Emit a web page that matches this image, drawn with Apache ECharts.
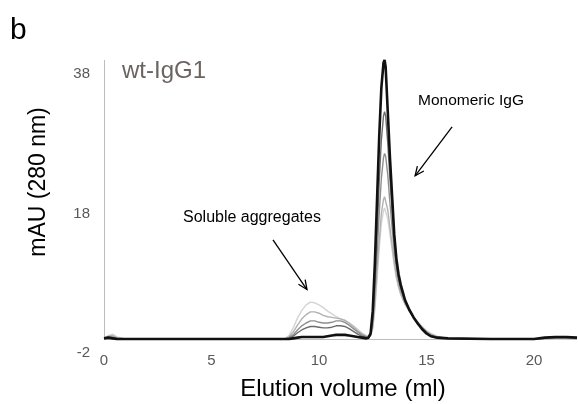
<!DOCTYPE html>
<html>
<head>
<meta charset="utf-8">
<script src="https://cdn.jsdelivr.net/npm/echarts@6/dist/echarts.min.js"></script>
<style>
  html, body { margin: 0; padding: 0; background: #fff; }
  #chart { width: 578px; height: 404px; }
</style>
</head>
<body>
<div id="chart"></div>
<script>
// elution volume (ml), shared by all traces
const volume = [0, 0.2, 0.4, 0.6, 1, 3, 6, 8.4, 8.6, 8.8,
  9.0, 9.2, 9.4, 9.6, 9.8, 10.0, 10.2, 10.4, 10.6, 10.8,
  11.0, 11.2, 11.4, 11.6, 11.8, 12.0, 12.2, 12.3, 12.4, 12.5,
  12.6, 12.7, 12.8, 12.9, 13.0, 13.05, 13.1, 13.2, 13.3, 13.4,
  13.5, 13.6, 13.7, 13.8, 14.0, 14.2, 14.4, 14.6, 14.8, 15.0,
  15.2, 15.5, 16, 18, 20, 20.5, 21, 21.5, 22];

// absorbance traces (mAU), lightest -> darkest
const traceA = [0.1, 0.5, 0.7, 0.3, 0, 0, 0, 0, 0.5, 1.6,
  3.0, 4.1, 4.9, 5.3, 5.2, 4.9, 4.5, 4.0, 3.6, 3.2,
  2.9, 2.6, 2.3, 1.9, 1.4, 0.9, 0.5, 0.4, 0.5, 1.4,
  4.2, 8.5, 13, 16.5, 18.4, 18.8, 18.6, 17.2, 15, 12.8,
  10.5, 8.7, 7.4, 6.4, 5.0, 4.0, 3.1, 2.4, 1.8, 1.2,
  0.8, 0.4, 0.1, 0, 0, 0, 0, 0, 0];
const traceB = [0.1, 0.4, 0.5, 0.2, 0, 0, 0, 0, 0.3, 1.0,
  2.0, 2.9, 3.5, 3.9, 3.9, 3.7, 3.4, 3.2, 3.1, 3.0,
  2.9, 2.7, 2.3, 1.8, 1.2, 0.7, 0.4, 0.3, 0.5, 1.7,
  5, 9.5, 14, 18, 20, 20.4, 20.2, 18.5, 16, 13.5,
  11, 9, 7.6, 6.5, 5.0, 4.0, 3.1, 2.4, 1.7, 1.1,
  0.7, 0.3, 0.1, 0, 0, 0, 0.1, 0.1, 0];
const traceC = [0.1, 0.3, 0.3, 0.1, 0, 0, 0, 0, 0.2, 0.6,
  1.3, 1.9, 2.3, 2.6, 2.6, 2.4, 2.3, 2.3, 2.4, 2.6,
  2.6, 2.4, 2.0, 1.5, 1.0, 0.6, 0.3, 0.2, 0.5, 2.2,
  6.5, 12, 18, 23, 26, 26.6, 26.2, 23.5, 19.5, 16,
  12.5, 10, 8.3, 7.0, 5.3, 4.1, 3.1, 2.3, 1.6, 1.0,
  0.6, 0.3, 0.1, 0, 0, 0.1, 0.1, 0.1, 0.1];
const traceD = [0.1, 0.2, 0.2, 0.1, 0, 0, 0, 0, 0.1, 0.4,
  0.9, 1.3, 1.6, 1.8, 1.8, 1.7, 1.6, 1.6, 1.7, 1.9,
  1.9, 1.8, 1.5, 1.1, 0.7, 0.4, 0.2, 0.2, 0.6, 2.8,
  8, 15, 22.5, 28.5, 32, 32.6, 32, 28, 23, 18.5,
  14, 10.8, 8.8, 7.4, 5.5, 4.2, 3.1, 2.2, 1.5, 0.9,
  0.5, 0.2, 0.1, 0, 0, 0.1, 0.2, 0.2, 0.1];
const traceE = [0.1, 0.2, 0.1, 0, 0, 0, 0, 0, 0, 0.1,
  0.2, 0.3, 0.3, 0.3, 0.3, 0.3, 0.3, 0.4, 0.5, 0.6,
  0.6, 0.6, 0.5, 0.4, 0.3, 0.2, 0.1, 0.2, 0.8, 4,
  11, 20, 29, 36, 39.6, 40, 39, 32.5, 26, 20.5,
  15, 11.5, 9.3, 7.8, 5.6, 4.2, 3.1, 2.2, 1.4, 0.8,
  0.4, 0.2, 0.1, 0, 0, 0.2, 0.3, 0.3, 0.2];

const traces = [traceA, traceB, traceC, traceD, traceE];
const traceColors = ['#d4d4d4', '#b2b2b2', '#8f8f8f', '#6a6a6a', '#111111'];
const traceWidths = [1.4, 1.4, 1.4, 1.4, 2.6];

const xTicks = [0, 5, 10, 15, 20];
const yTicks = [-2, 18, 38];

const FONT = '"Liberation Sans", Arial, sans-serif';

const chart = echarts.init(document.getElementById('chart'));

const series = traces.map((t, i) => ({
  type: 'line',
  data: volume.map((v, j) => [v, t[j]]),
  showSymbol: false,
  silent: true,
  z: 2 + i,
  lineStyle: { color: traceColors[i], width: traceWidths[i] },
}));

// axis lines cross at zero in the original (y line runs 0..40, x line at 0)
series[0].clip = false;
series[0].markLine = {
  silent: true,
  symbol: 'none',
  z: 1,
  label: { show: false },
  emphasis: { disabled: true },
  lineStyle: { color: '#bdbdbd', width: 1, type: 'solid' },
  data: [
    [{ coord: [0, 0] }, { coord: [0, 40] }],
    [{ coord: [0, 0] }, { coord: [22, 0] }],
  ],
};

chart.setOption({
  animation: false,
  grid: { left: 104, right: 1, top: 60, bottom: 51 },
  xAxis: {
    type: 'value',
    min: 0,
    max: 22,
    axisLine: { show: false, onZero: false },
    axisTick: { show: false },
    splitLine: { show: false },
    axisLabel: {
      customValues: xTicks,
      color: '#595959',
      fontSize: 15,
      fontFamily: FONT,
      margin: 0,
    },
  },
  yAxis: {
    type: 'value',
    min: -2,
    max: 40,
    axisLine: { show: false },
    axisTick: { show: false },
    splitLine: { show: false },
    axisLabel: {
      customValues: yTicks,
      color: '#595959',
      fontSize: 15,
      fontFamily: FONT,
      margin: 14,
    },
  },
  series: series,
});

// arrows, given in data units
const arrows = [
  { from: [7.86, 14.2], to: [9.44, 7.1] },
  { from: [16.19, 30.4], to: [14.47, 23.4] },
];

const arrowGraphics = arrows.map(a => {
  const p0 = chart.convertToPixel({ gridIndex: 0 }, a.from);
  const p1 = chart.convertToPixel({ gridIndex: 0 }, a.to);
  const ang = Math.atan2(p1[1] - p0[1], p1[0] - p0[0]);
  const len = 10, spread = 0.42;
  const h1 = [p1[0] - len * Math.cos(ang - spread), p1[1] - len * Math.sin(ang - spread)];
  const h2 = [p1[0] - len * Math.cos(ang + spread), p1[1] - len * Math.sin(ang + spread)];
  return {
    type: 'group',
    children: [
      { type: 'line', shape: { x1: p0[0], y1: p0[1], x2: p1[0], y2: p1[1] },
        style: { stroke: '#000', lineWidth: 1.3 } },
      { type: 'polyline', shape: { points: [h1, p1, h2] },
        style: { stroke: '#000', lineWidth: 1.3, fill: null } },
    ],
  };
});

chart.setOption({
  graphic: [
    { type: 'text', x: 10, y: 31,
      style: { text: 'b', font: '30px ' + FONT, fill: '#000', verticalAlign: 'middle' } },
    { type: 'text', x: 122, y: 71,
      style: { text: 'wt-IgG1', font: '24px ' + FONT, fill: '#6b6461', verticalAlign: 'middle' } },
    { type: 'text', x: 39, y: 182, rotation: Math.PI / 2,
      style: { text: 'mAU (280 nm)', font: '23px ' + FONT, fill: '#000', align: 'center', verticalAlign: 'middle' } },
    { type: 'text', x: 343, y: 389,
      style: { text: 'Elution volume (ml)', font: '24px ' + FONT, fill: '#000', align: 'center', verticalAlign: 'middle' } },
    { type: 'text', x: 183, y: 218,
      style: { text: 'Soluble aggregates', font: '16px ' + FONT, fill: '#000', verticalAlign: 'middle' } },
    { type: 'text', x: 418, y: 101,
      style: { text: 'Monomeric IgG', font: '15.5px ' + FONT, fill: '#000', verticalAlign: 'middle' } },
  ].concat(arrowGraphics),
});
</script>
</body>
</html>
